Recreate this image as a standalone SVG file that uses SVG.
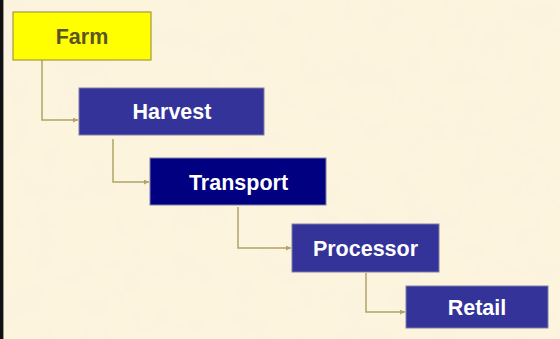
<svg xmlns="http://www.w3.org/2000/svg" width="560" height="339" viewBox="0 0 560 339">
  <defs>
    <filter id="parchment" x="0" y="0" width="100%" height="100%">
      <feTurbulence type="fractalNoise" baseFrequency="0.035" numOctaves="3" seed="7" result="noise"/>
      <feColorMatrix in="noise" type="matrix" values="0 0 0 0 0.94  0 0 0 0 0.87  0 0 0 0 0.72  0 0 0 0.3 -0.05"/>
    </filter>
    <marker id="arrow" viewBox="0 0 6 6" refX="6" refY="3" markerWidth="5" markerHeight="5" orient="auto" markerUnits="userSpaceOnUse">
      <path d="M0,0 L6,3 L0,6 Z" fill="#b0a468"/>
    </marker>
    <style>
      .box { stroke: #7f7fa6; stroke-width: 1; }
      .blue { fill: #333399; }
      .navy { fill: #000080; }
      .farm { fill: #ffff00; stroke: #a39a40; stroke-width: 1.2; }
      .label { font-family: "Liberation Sans", Arial, sans-serif; font-weight: bold; font-size: 21.5px; text-anchor: middle; fill: #ffffff; }
      .label-dark { fill: #5c5424; }
      .link { fill: none; stroke: #b0a468; stroke-width: 1.5; marker-end: url(#arrow); }
    </style>
  </defs>

  <!-- parchment background -->
  <rect x="0" y="0" width="560" height="339" fill="#fdf4de"/>
  <rect x="0" y="0" width="560" height="339" filter="url(#parchment)"/>
  <rect x="0" y="0" width="3" height="339" fill="#111111"/>
  <rect x="3" y="0" width="1" height="339" fill="#9a9a9a"/>

  <!-- connectors -->
  <g id="connectors">
    <path class="link" d="M42,60 V120 H78"/>
    <path class="link" d="M113,139 V182 H149"/>
    <path class="link" d="M238,207 V248 H291"/>
    <path class="link" d="M366,273 V312 H405"/>
  </g>

  <g id="farm">
    <rect class="farm" x="13" y="12" width="138" height="48"/>
    <text class="label label-dark" x="82" y="44">Farm</text>
  </g>

  <g id="harvest">
    <rect class="box blue" x="79" y="88" width="185" height="47"/>
    <text class="label" x="172" y="119">Harvest</text>
  </g>

  <g id="transport">
    <rect class="box navy" x="150" y="158" width="176" height="47"/>
    <text class="label" x="238.5" y="190">Transport</text>
  </g>

  <g id="processor">
    <rect class="box blue" x="292" y="224" width="147" height="48"/>
    <text class="label" x="365.5" y="256">Processor</text>
  </g>

  <g id="retail">
    <rect class="box blue" x="406" y="286" width="142" height="42"/>
    <text class="label" x="477" y="315">Retail</text>
  </g>
</svg>
